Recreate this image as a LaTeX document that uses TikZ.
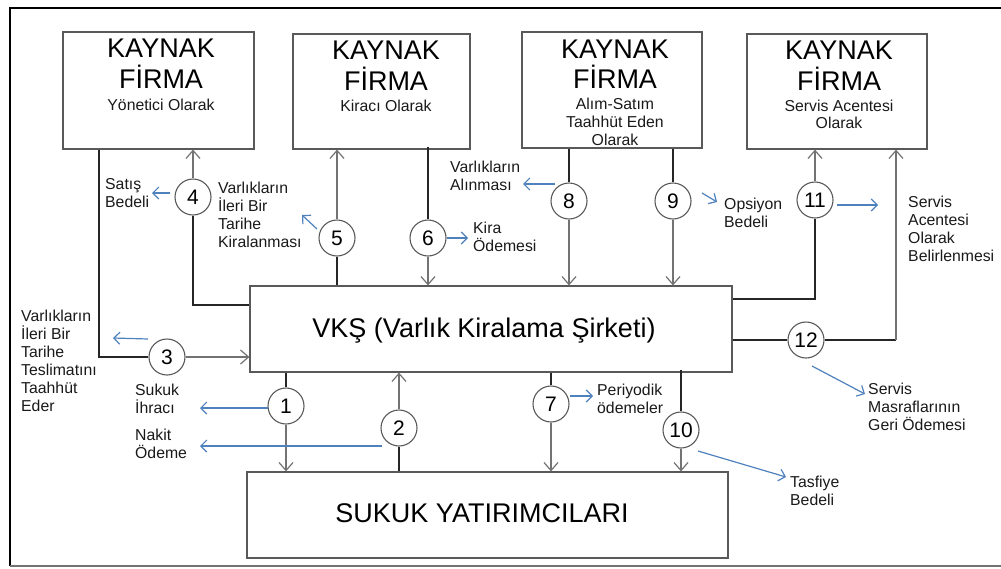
\documentclass[tikz,border=0pt]{standalone}
\usepackage{fontspec}
\setmainfont{Liberation Sans}
\usetikzlibrary{arrows.meta}
\definecolor{ablue}{RGB}{79,129,189}
\definecolor{txt}{RGB}{25,25,25}
\begin{document}
\begin{tikzpicture}[x=1pt,y=-1pt,
  box/.style={draw=black!65, line width=1.2pt, inner sep=0pt},
  num/.style={circle, draw=black!65, line width=1.1pt, fill=white, minimum size=36pt, inner sep=0pt, text=black, font=\fontsize{21}{24}\selectfont},
  big/.style={anchor=base, inner sep=0pt, text=black, font=\fontsize{27}{32}\selectfont},
  sub/.style={anchor=base, inner sep=0pt, text=txt, font=\fontsize{15.8}{18}\selectfont},
  lbl/.style={anchor=north west, align=left, inner sep=0pt, text=txt, font=\fontsize{15.8}{18}\selectfont},
  ln/.style={black!85, line width=1.2pt},
  garr/.style={black!55, line width=1.2pt, -{Straight Barb[length=8pt,width=14pt]}},
  barr/.style={ablue, line width=1.2pt, -{Straight Barb[length=6pt,width=12pt]}}]
\useasboundingbox (0,0) rectangle (1001,568);
% frame
\draw[black, line width=2.4pt] (1001,8) -- (10,8) -- (10,566);
\draw[black!55, line width=1.5pt] (10,566) -- (1001,566);
% boxes
\node[box, minimum width=191pt, minimum height=117pt] (b1) at (158.5,90.5) {};
\node[box, minimum width=177pt, minimum height=115pt] (b2) at (381.5,91.5) {};
\node[box, minimum width=180pt, minimum height=116pt] (b3) at (612,90) {};
\node[box, minimum width=180pt, minimum height=115pt] (b4) at (837,91.5) {};
\node[box, minimum width=482pt, minimum height=86pt] (vks) at (491,329) {};
\node[box, minimum width=481pt, minimum height=86pt] (sukuk) at (487.5,515) {};
% box texts
\node[big] (b1k) at (161,57) {KAYNAK};
\node[big] (b1f) at (161,88) {FİRMA};
\node[sub] (b1s) at (161,110) {Yönetici Olarak};
\node[big] (b2k) at (386,59) {KAYNAK};
\node[big] (b2f) at (386,90) {FİRMA};
\node[sub] (b2s) at (386,111) {Kiracı Olarak};
\node[big] (b3k) at (615,58) {KAYNAK};
\node[big] (b3f) at (615,88) {FİRMA};
\node[sub] (b3s1) at (615,109) {Alım-Satım};
\node[sub] (b3s2) at (615,127) {Taahhüt Eden};
\node[sub] (b3s3) at (615,145.5) {Olarak};
\node[big] (b4k) at (839,59) {KAYNAK};
\node[big] (b4f) at (839,90) {FİRMA};
\node[sub] (b4s1) at (839,111) {Servis Acentesi};
\node[sub] (b4s2) at (839,128.5) {Olarak};
\node[big] (vkst) at (484,337) {VKŞ (Varlık Kiralama Şirketi)};
\node[big] (sukt) at (482,522) {SUKUK YATIRIMCILARI};
% circles
\node[num] (c1) at (286,406) {1};
\node[num] (c2) at (399,428) {2};
\node[num] (c3) at (167,357) {3};
\node[num] (c4) at (193,197) {4};
\node[num] (c5) at (337,238) {5};
\node[num] (c6) at (428,238) {6};
\node[num] (c7) at (551,404) {7};
\node[num] (c8) at (569,201) {8};
\node[num] (c9) at (673,201) {9};
\node[num] (c10) at (681,430) {10};
\node[num] (c11) at (815,200) {11};
\node[num] (c12) at (806,340) {12};
% junctions
\coordinate (j3) at (99,357);
\coordinate (j4) at (193,305);
\coordinate (j11) at (815,299);
\coordinate (j12) at (896,340);
% connectors
\draw[ln] (b1.south -| j3) -- (j3) -- (c3);
\draw[garr] (c3) -- (c3 -| vks.west);
\draw[ln] (j4 -| vks.west) -- (j4) -- (c4);
\draw[garr] (c4) -- (c4 |- b1.south);
\draw[ln] (vks.north -| c5) -- (c5);
\draw[garr] (c5) -- (c5 |- b2.south);
\draw[ln] ([yshift=3pt]b2.south -| c6) -- (c6);
\draw[garr] (c6) -- (c6 |- vks.north);
\draw[ln] (b3.south -| c8) -- (c8);
\draw[garr] (c8) -- (c8 |- vks.north);
\draw[ln] (b3.south -| c9) -- (c9);
\draw[garr] (c9) -- (c9 |- vks.north);
\draw[ln] (j11 -| vks.east) -- (j11) -- (c11);
\draw[garr] (c11) -- (c11 |- b4.south);
\draw[ln] (c12 -| vks.east) -- (c12) -- (j12);
\draw[garr] (j12) -- (j12 |- b4.south);
\draw[ln] (vks.south -| c1) -- (c1);
\draw[garr] (c1) -- (c1 |- sukuk.north);
\draw[ln] (sukuk.north -| c2) -- (c2);
\draw[garr] (c2) -- (c2 |- vks.south);
\draw[ln] (vks.south -| c7) -- (c7);
\draw[garr] (c7) -- (c7 |- sukuk.north);
\draw[ln] ([yshift=3pt]vks.south -| c10) -- (c10);
\draw[garr] (c10) -- (c10 |- sukuk.north);
% blue annotation arrows
\coordinate (a4s) at (170,193);  \coordinate (a4e) at (152,193);
\coordinate (a5s) at (317,229);  \coordinate (a5e) at (302,215);
\coordinate (a6s) at (447,238);  \coordinate (a6e) at (468,238);
\coordinate (a8s) at (555,184);  \coordinate (a8e) at (523,184);
\coordinate (a9s) at (702,193);  \coordinate (a9e) at (717,202);
\coordinate (a11s) at (837,205); \coordinate (a11e) at (878,205);
\coordinate (a3s) at (148,339);  \coordinate (a3e) at (113,338);
\coordinate (a1s) at (268,408);  \coordinate (a1e) at (200,408);
\coordinate (a2s) at (382,446);  \coordinate (a2e) at (200,446);
\coordinate (a7s) at (570,396);  \coordinate (a7e) at (593,396);
\coordinate (a10s) at (698,451); \coordinate (a10e) at (786,477);
\coordinate (a12s) at (812,366); \coordinate (a12e) at (865,394);
\foreach \k in {4,5,6,8,9,11,3,1,2,7,10,12} \draw[barr] (a\k s) -- (a\k e);
% labels
\node[lbl] (l4) at (105,178) {Satış\\Bedeli};
\node[lbl] (l5) at (218,182) {Varlıkların\\İleri Bir\\Tarihe\\Kiralanması};
\node[lbl] (l6) at (473,222) {Kira\\Ödemesi};
\node[lbl] (l8) at (450,161) {Varlıkların\\Alınması};
\node[lbl] (l9) at (724,198) {Opsiyon\\Bedeli};
\node[lbl] (l11) at (908,196) {Servis\\Acentesi\\Olarak\\Belirlenmesi};
\node[lbl] (l3) at (21,310) {Varlıkların\\İleri Bir\\Tarihe\\Teslimatını\\Taahhüt\\Eder};
\node[lbl] (l1) at (135,384) {Sukuk\\İhracı};
\node[lbl] (l2) at (135,429) {Nakit\\Ödeme};
\node[lbl] (l7) at (597,384) {Periyodik\\ödemeler};
\node[lbl] (l10) at (790,476) {Tasfiye\\Bedeli};
\node[lbl] (l12) at (868,383) {Servis\\Masraflarının\\Geri Ödemesi};
\end{tikzpicture}
\end{document}
